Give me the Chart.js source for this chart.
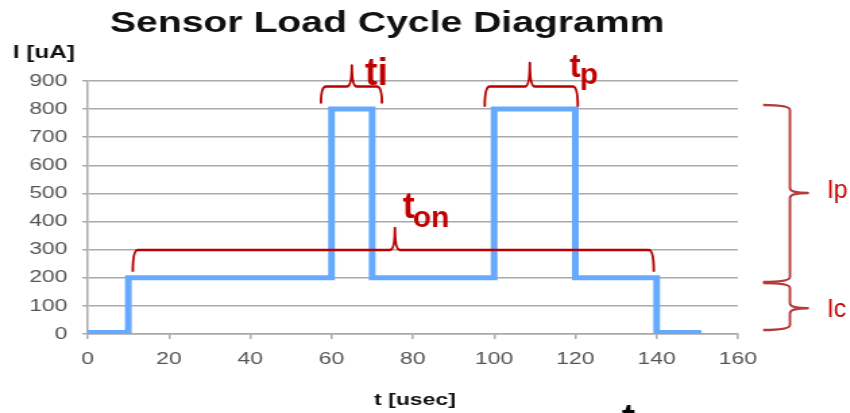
<!DOCTYPE html>
<html>
<head>
<meta charset="utf-8">
<script src="https://cdn.jsdelivr.net/npm/chart.js@4.4.1/dist/chart.umd.min.js"></script>
<style>
  html, body { margin: 0; padding: 0; background: #fff; overflow: hidden; }
  /* the original picture is the chart squeezed into 630px and stretched to 850px */
  #wrap { width: 630px; height: 413px; transform: scaleX(1.349); transform-origin: 0 0; }
</style>
</head>
<body>
<div id="wrap"><canvas id="myChart"></canvas></div>
<script>
const STRETCH = 850 / 630;

// load cycle: time [usec] and current [uA]
const timeUs    = [0, 10, 10,  60,  60,  70,  70, 100, 100, 120, 120, 140, 140, 151];
const currentUa = [5,  5, 200, 200, 800, 800, 200, 200, 800, 800, 200, 200,   5,   5];

const xTicks = [0, 20, 40, 60, 80, 100, 120, 140, 160];
const yTicks = [0, 100, 200, 300, 400, 500, 600, 700, 800, 900];

// braces over the time axis: [xStart, xEnd, xMid, yBar, yEnds, yPeak]
const hBraces = [
  [57.4, 72.4, 65, 880, 820, 955],
  [97.7, 120.6, 108.8, 880, 808, 964],
  [11.1, 139.3, 75.6, 299, 221, 377]
];
// braces at the right side: [yTop, yBottom, yMid]
const vBraces = [
  [815, 185, 502],
  [181, 14, 92]
];
const vBraceX = [166.2, 172.8, 177.2]; // ends, bar, tip

// annotation labels: [text, x, y, font]
const notes = [
  ['ti', 68.2, 886, 'bold 38px "Liberation Sans", Arial, sans-serif'],
  ['t', 118.6, 914, 'bold 33px "Liberation Sans", Arial, sans-serif'],
  ['p', 121.1, 889, 'bold 30px "Liberation Sans", Arial, sans-serif'],
  ['t', 77.5, 413, 'bold 36px "Liberation Sans", Arial, sans-serif'],
  ['on', 80, 381, 'bold 30px "Liberation Sans", Arial, sans-serif'],
  ['Ip', 181.9, 484, '25px "Liberation Sans", Arial, sans-serif'],
  ['Ic', 181.9, 60, '25px "Liberation Sans", Arial, sans-serif']
];

const FONT = '"Liberation Sans", Arial, sans-serif';

const decorations = {
  id: 'decorations',
  afterDraw(chart) {
    const { ctx, scales: { x, y } } = chart;

    // titles (stretched with the chart)
    ctx.save();
    ctx.fillStyle = '#111';
    ctx.textAlign = 'center';
    ctx.textBaseline = 'alphabetic';
    ctx.font = 'bold 29px ' + FONT;
    ctx.fillText('Sensor Load Cycle Diagramm', 287, 32);
    ctx.font = 'bold 17px ' + FONT;
    ctx.fillText('t [usec]', 307.6, 405);
    ctx.textAlign = 'left';
    ctx.font = 'bold 18px ' + FONT;
    ctx.fillText('I [uA]', 9.6, 58);
    ctx.restore();

    // annotations were drawn on top of the stretched picture, so undo the stretch
    ctx.save();
    ctx.scale(1 / STRETCH, 1);
    const px = v => x.getPixelForValue(v) * STRETCH;
    const py = v => y.getPixelForValue(v);
    const r = 5;

    ctx.lineWidth = 2.5;
    ctx.lineJoin = 'round';
    ctx.strokeStyle = '#b80000';
    hBraces.forEach(([x1, x2, xm, bar, ends, peak]) => {
      const a = px(x1), b = px(x2), m = px(xm);
      const yb = py(bar), ye = py(ends), yp = py(peak);
      ctx.beginPath();
      ctx.moveTo(a, ye);
      ctx.quadraticCurveTo(a, yb, a + r, yb);
      ctx.lineTo(m - r, yb);
      ctx.quadraticCurveTo(m, yb, m, yp);
      ctx.quadraticCurveTo(m, yb, m + r, yb);
      ctx.lineTo(b - r, yb);
      ctx.quadraticCurveTo(b, yb, b, ye);
      ctx.stroke();
    });

    ctx.strokeStyle = '#b53a3a';
    const [xe, xb, xt] = vBraceX.map(px);
    vBraces.forEach(([top, bot, mid]) => {
      const yt = py(top), yb = py(bot), ym = py(mid);
      ctx.beginPath();
      ctx.moveTo(xe, yt);
      ctx.quadraticCurveTo(xb, yt, xb, yt + r);
      ctx.lineTo(xb, ym - r);
      ctx.quadraticCurveTo(xb, ym, xt, ym);
      ctx.quadraticCurveTo(xb, ym, xb, ym + r);
      ctx.lineTo(xb, yb - r);
      ctx.quadraticCurveTo(xb, yb, xe, yb);
      ctx.stroke();
    });

    ctx.fillStyle = '#c00000';
    ctx.textAlign = 'left';
    ctx.textBaseline = 'alphabetic';
    notes.forEach(([text, nx, ny, font]) => {
      ctx.font = font;
      ctx.fillText(text, px(nx), py(ny));
    });

    // cut-off letter at the bottom edge
    ctx.fillStyle = '#000';
    ctx.font = 'bold 40px ' + FONT;
    ctx.fillText('t', 622, 432);
    ctx.restore();
  }
};

new Chart(document.getElementById('myChart'), {
  type: 'line',
  data: {
    datasets: [{
      data: timeUs.map((t, i) => ({ x: t, y: currentUa[i] })),
      borderColor: '#66aaff',
      borderWidth: 5,
      borderJoinStyle: 'miter',
      pointRadius: 0,
      fill: false,
      tension: 0
    }]
  },
  options: {
    responsive: true,
    maintainAspectRatio: false,
    animation: false,
    layout: { padding: { top: 81, right: 83, left: 0, bottom: 0 } },
    plugins: { legend: { display: false }, tooltip: { enabled: false }, title: { display: false } },
    scales: {
      x: {
        type: 'linear',
        min: 0,
        max: 160,
        afterBuildTicks: s => { s.ticks = xTicks.map(v => ({ value: v })); },
        afterFit: s => { s.height = 79; },
        ticks: { color: '#555', font: { family: FONT, size: 17 }, padding: 10, maxRotation: 0 },
        grid: { drawOnChartArea: false, tickLength: 5, color: '#aaa', lineWidth: 1.5 },
        border: { color: '#aaa', width: 1.5 }
      },
      y: {
        min: 0,
        max: 900,
        afterBuildTicks: s => { s.ticks = yTicks.map(v => ({ value: v })); },
        afterFit: s => { s.width = 65; },
        ticks: { color: '#555', font: { family: FONT, size: 17 }, padding: 11 },
        grid: { color: '#aaa', lineWidth: 1.5, tickLength: 4 },
        border: { color: '#aaa', width: 1.5 }
      }
    }
  },
  plugins: [decorations]
});
</script>
</body>
</html>
